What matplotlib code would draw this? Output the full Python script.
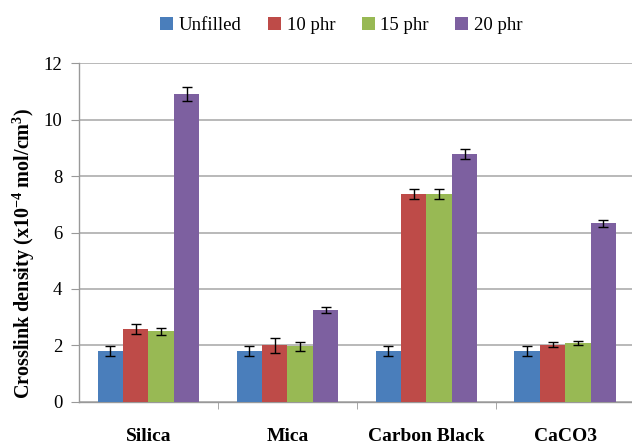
import numpy as np
import matplotlib
matplotlib.use("Agg")
import matplotlib.pyplot as plt

plt.rcParams['font.family'] = ['Liberation Serif', 'DejaVu Serif']
plt.rcParams['mathtext.fontset'] = 'custom'
plt.rcParams['mathtext.rm'] = 'Liberation Serif'
plt.rcParams['mathtext.bf'] = 'Liberation Serif:bold'

categories = ["Silica", "Mica", "Carbon Black", "CaCO3"]
series = ["Unfilled", "10 phr", "15 phr", "20 phr"]
unfilled = [1.8, 1.8, 1.8, 1.8]
phr10 = [2.57, 2.0, 7.35, 2.03]
phr15 = [2.5, 1.97, 7.35, 2.08]
phr20 = [10.9, 3.25, 8.78, 6.33]
err_unfilled = [0.18, 0.18, 0.18, 0.18]
err_10 = [0.18, 0.25, 0.18, 0.1]
err_15 = [0.12, 0.15, 0.18, 0.08]
err_20 = [0.26, 0.1, 0.18, 0.12]
colors = ["#4a7ebb", "#be4b48", "#98b954", "#7d60a0"]

values = [unfilled, phr10, phr15, phr20]
errors = [err_unfilled, err_10, err_15, err_20]

fig = plt.figure(figsize=(6.32, 4.44), dpi=100)
ax = fig.add_axes([0.125, 0.0946, 0.875, 0.7635])

x = np.arange(len(categories))
w = 0.183
for i, (name, vals, errs, c) in enumerate(zip(series, values, errors, colors)):
    ax.bar(x + (i - 1.5) * w, vals, width=w, color=c, label=name, zorder=3,
           yerr=errs, error_kw=dict(ecolor='black', elinewidth=1, capsize=3.5, capthick=1, zorder=4))

ax.set_ylim(0, 12)
ax.set_yticks(np.arange(0, 13, 2))
ax.set_xlim(-0.5, 3.48)
ax.yaxis.grid(True, color='#b3b3b3', linewidth=1.3, zorder=0)
ax.set_axisbelow(True)
for s in ['top', 'right']:
    ax.spines[s].set_visible(False)
for s in ['left', 'bottom']:
    ax.spines[s].set_color('#999999')
    ax.spines[s].set_linewidth(1.0)

ax.set_xticks(x)
ax.set_xticklabels(categories, fontweight='bold', fontsize=14)
ax.tick_params(axis='x', length=0, pad=19)
ax.set_xticks(np.arange(0.5, 3.0, 1.0), minor=True)
ax.tick_params(axis='x', which='minor', length=5, color='#999999', direction='out')
ax.tick_params(axis='y', labelsize=13.5, length=6, color='#999999', pad=6)

ax.set_ylabel(r'Crosslink density (x10$\mathbf{^{-4}}$ mol/cm$\mathbf{^{3}}$)',
              fontweight='bold', fontsize=14.5)
ax.yaxis.set_label_coords(-0.076, 0.437)

fig.legend(loc='upper center', bbox_to_anchor=(0.54, 1.0), ncol=4, frameon=False,
           fontsize=13.5, handlelength=0.7, handleheight=0.7, handletextpad=0.3,
           columnspacing=1.4)

fig.savefig("out.png", dpi=100)
